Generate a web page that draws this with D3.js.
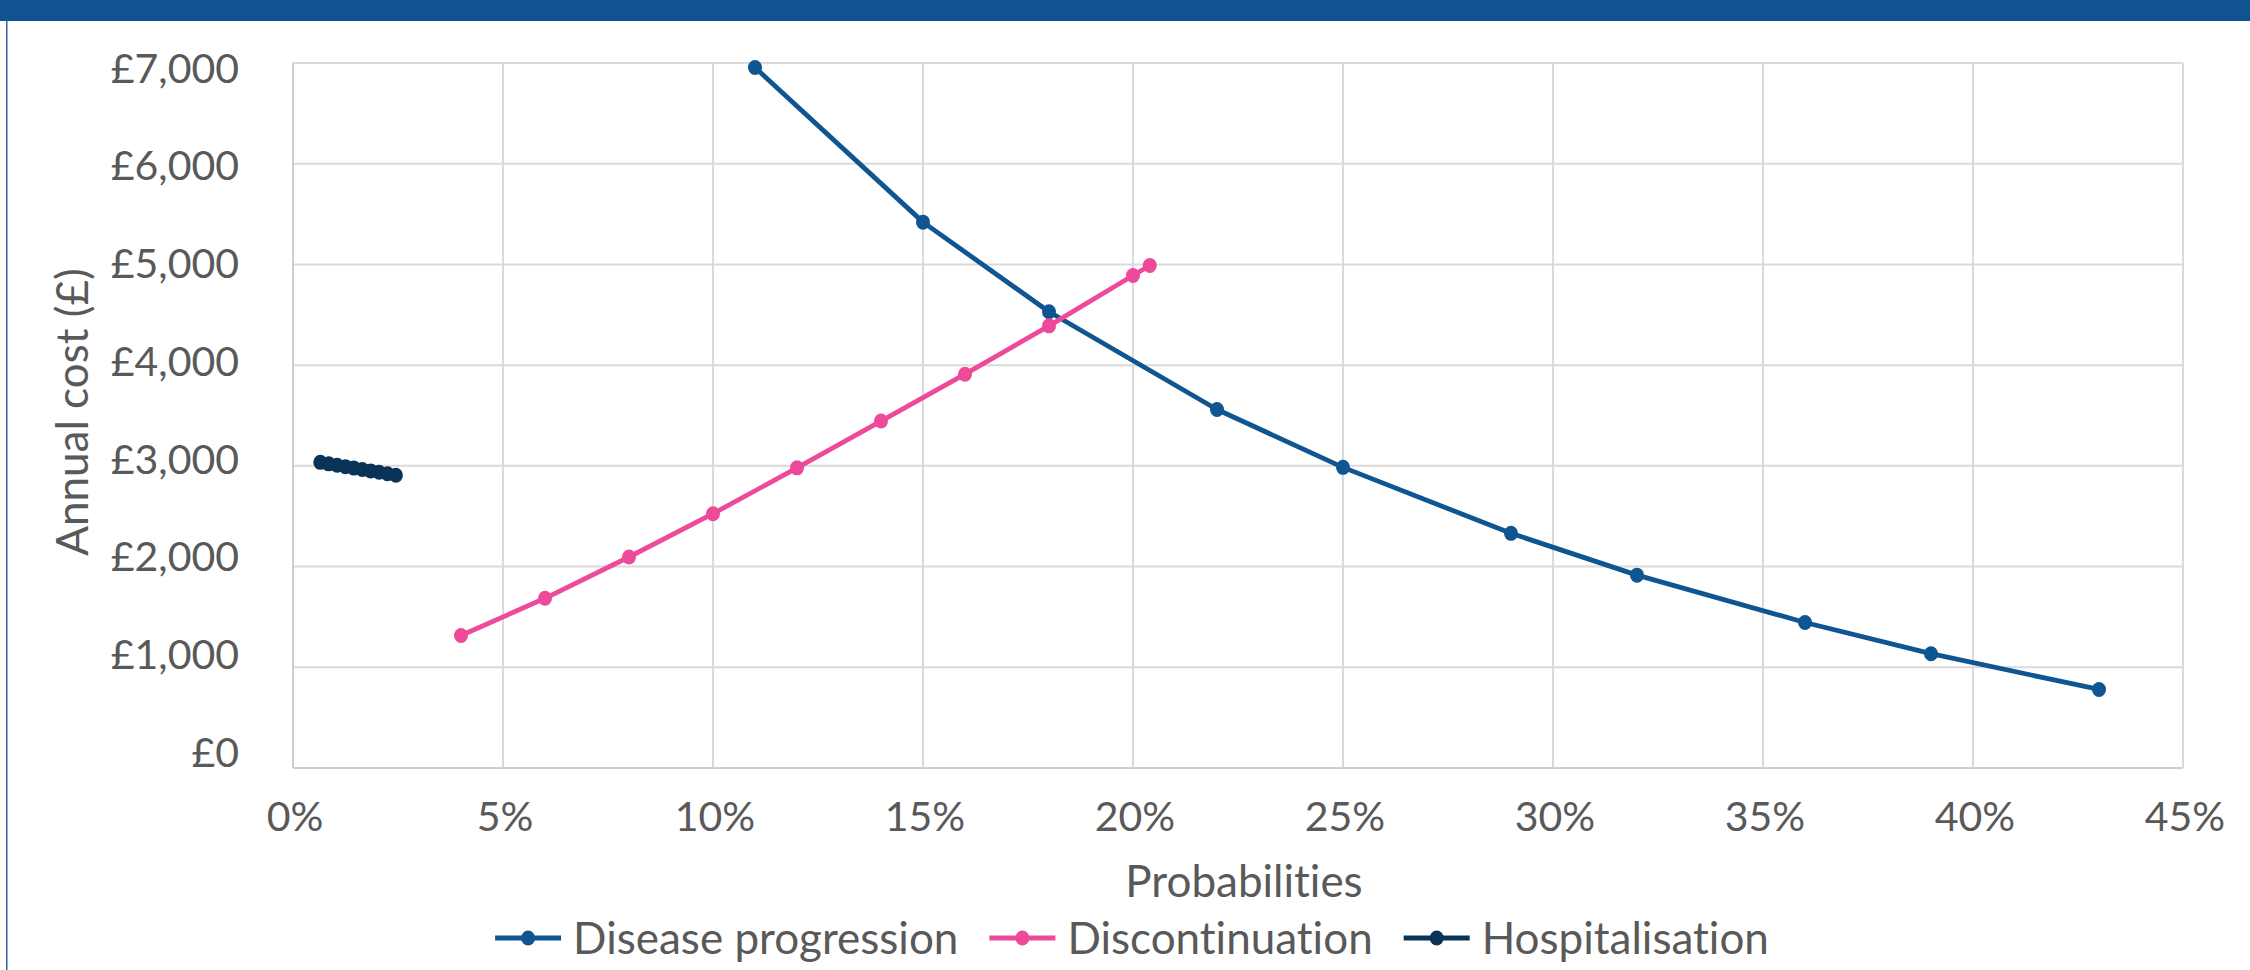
<!DOCTYPE html>
<html>
<head>
<meta charset="utf-8">
<script src="https://cdn.jsdelivr.net/npm/d3@7"></script>
<style>
  html, body { margin: 0; padding: 0; background: #ffffff; }
  svg { display: block; }
  text { font-family: Lato, "Open Sans", sans-serif; fill: #595959; font-variant-ligatures: none; font-feature-settings: "liga" 0; }
</style>
</head>
<body>
<svg id="chart" width="2250" height="970"></svg>
<script>
// ---- data ----
const xTickValues = [0, 5, 10, 15, 20, 25, 30, 35, 40, 45];
const xTickLabels = ["0%", "5%", "10%", "15%", "20%", "25%", "30%", "35%", "40%", "45%"];
const yTickValues = [0, 1000, 2000, 3000, 4000, 5000, 6000, 7000];
const yTickLabels = ["£0", "£1,000", "£2,000", "£3,000", "£4,000", "£5,000", "£6,000", "£7,000"];

const seriesNames = ["Disease progression", "Discontinuation", "Hospitalisation"];
const seriesColors = ["#0F5591", "#EE4A9A", "#0A3457"];

const progressionX = [11, 15, 18, 22, 25, 29, 32, 36, 39, 43];
const progressionY = [6955, 5420, 4530, 3560, 2985, 2330, 1915, 1445, 1135, 780];

const discontinuationX = [4, 6, 8, 10, 12, 14, 16, 18, 20, 20.4];
const discontinuationY = [1315, 1685, 2095, 2525, 2980, 3445, 3910, 4390, 4890, 4990];

const hospitalisationX = [0.65, 0.85, 1.05, 1.25, 1.45, 1.65, 1.85, 2.05, 2.25, 2.45];
const hospitalisationY = [3035, 3020, 3006, 2992, 2978, 2964, 2950, 2936, 2921, 2907];

const xTitle = "Probabilities";
const yTitle = "Annual cost (£)";

// ---- layout ----
const W = 2250, H = 970;
const plot = { left: 293, right: 2183, top: 63, bottom: 768 };

const svg = d3.select("#chart");

// frame: top bar + thin left border
svg.append("rect").attr("x", 0).attr("y", 0).attr("width", W).attr("height", 21).attr("fill", "#0F5490");
svg.append("rect").attr("x", 6).attr("y", 21).attr("width", 1.5).attr("height", H - 21).attr("fill", "#2A66A6");

const x = d3.scaleLinear().domain([0, 45]).range([plot.left, plot.right]);
const y = d3.scaleLinear().domain([0, 7000]).range([plot.bottom, plot.top]);
// tick-label placement (labels sit on a slightly tighter spacing in the reference)
const yLab = d3.scaleLinear().domain([0, 7000]).range([752, 68]);

// gridlines
const grid = svg.append("g");
grid.selectAll("line.vg").data(xTickValues.slice(1)).join("line")
  .attr("x1", d => x(d)).attr("x2", d => x(d))
  .attr("y1", plot.top).attr("y2", plot.bottom)
  .attr("stroke", "#DADADA").attr("stroke-width", 2);
grid.selectAll("line.hg").data(yTickValues.slice(1)).join("line")
  .attr("x1", plot.left).attr("x2", plot.right)
  .attr("y1", d => y(d)).attr("y2", d => y(d))
  .attr("stroke", "#DADADA").attr("stroke-width", 2);

// axis lines
svg.append("line").attr("x1", plot.left).attr("x2", plot.left).attr("y1", plot.top).attr("y2", plot.bottom)
  .attr("stroke", "#CFCFCF").attr("stroke-width", 2);
svg.append("line").attr("x1", plot.left).attr("x2", plot.right).attr("y1", plot.bottom).attr("y2", plot.bottom)
  .attr("stroke", "#CFCFCF").attr("stroke-width", 2);

// y tick labels
svg.append("g").selectAll("text").data(yTickValues).join("text")
  .attr("x", 239).attr("y", d => yLab(d)).attr("dy", "0.36em")
  .attr("text-anchor", "end").attr("font-size", 41)
  .text((d, i) => yTickLabels[i]);

// x tick labels
svg.append("g").selectAll("text").data(xTickValues).join("text")
  .attr("x", d => x(d) + 2).attr("y", 831)
  .attr("text-anchor", "middle").attr("font-size", 41)
  .text((d, i) => xTickLabels[i]);

// axis titles
svg.append("text").attr("x", (plot.left + plot.right) / 2 + 6).attr("y", 897)
  .attr("text-anchor", "middle").attr("font-size", 44).text(xTitle);
svg.append("text").attr("transform", "translate(88,412) rotate(-90)")
  .attr("text-anchor", "middle").attr("font-size", 44).text(yTitle);

// series
const series = [
  { name: seriesNames[0], color: seriesColors[0], xs: progressionX, ys: progressionY },
  { name: seriesNames[1], color: seriesColors[1], xs: discontinuationX, ys: discontinuationY },
  { name: seriesNames[2], color: seriesColors[2], xs: hospitalisationX, ys: hospitalisationY }
];

const line = d3.line().x(d => x(d[0])).y(d => y(d[1]));

series.forEach(s => {
  const pts = s.xs.map((v, i) => [v, s.ys[i]]);
  const g = svg.append("g");
  g.append("path").datum(pts).attr("d", line)
    .attr("fill", "none").attr("stroke", s.color).attr("stroke-width", 4.8)
    .attr("stroke-linejoin", "round");
  g.selectAll("ellipse").data(pts).join("ellipse")
    .attr("cx", d => x(d[0])).attr("cy", d => y(d[1]))
    .attr("rx", 7).attr("ry", 7.5)
    .attr("fill", s.color);
});

// legend
const legend = svg.append("g");
const items = [];
let cursor = 0;
series.forEach((s, i) => {
  const gi = legend.append("g");
  gi.append("line").attr("x1", 0).attr("x2", 66).attr("y1", 0).attr("y2", 0)
    .attr("stroke", s.color).attr("stroke-width", 4.8);
  gi.append("ellipse").attr("cx", 33).attr("cy", 0).attr("rx", 7).attr("ry", 7.5).attr("fill", s.color);
  const t = gi.append("text").attr("x", 78).attr("y", 0).attr("dy", "0.36em")
    .attr("font-size", 44).text(s.name);
  const w = 78 + t.node().getComputedTextLength();
  items.push({ g: gi, offset: cursor });
  cursor += w + (i < series.length - 1 ? 31 : 0);
});
const legendStart = 1132 - cursor / 2;
items.forEach(it => it.g.attr("transform", `translate(${legendStart + it.offset},938)`));
</script>
</body>
</html>
